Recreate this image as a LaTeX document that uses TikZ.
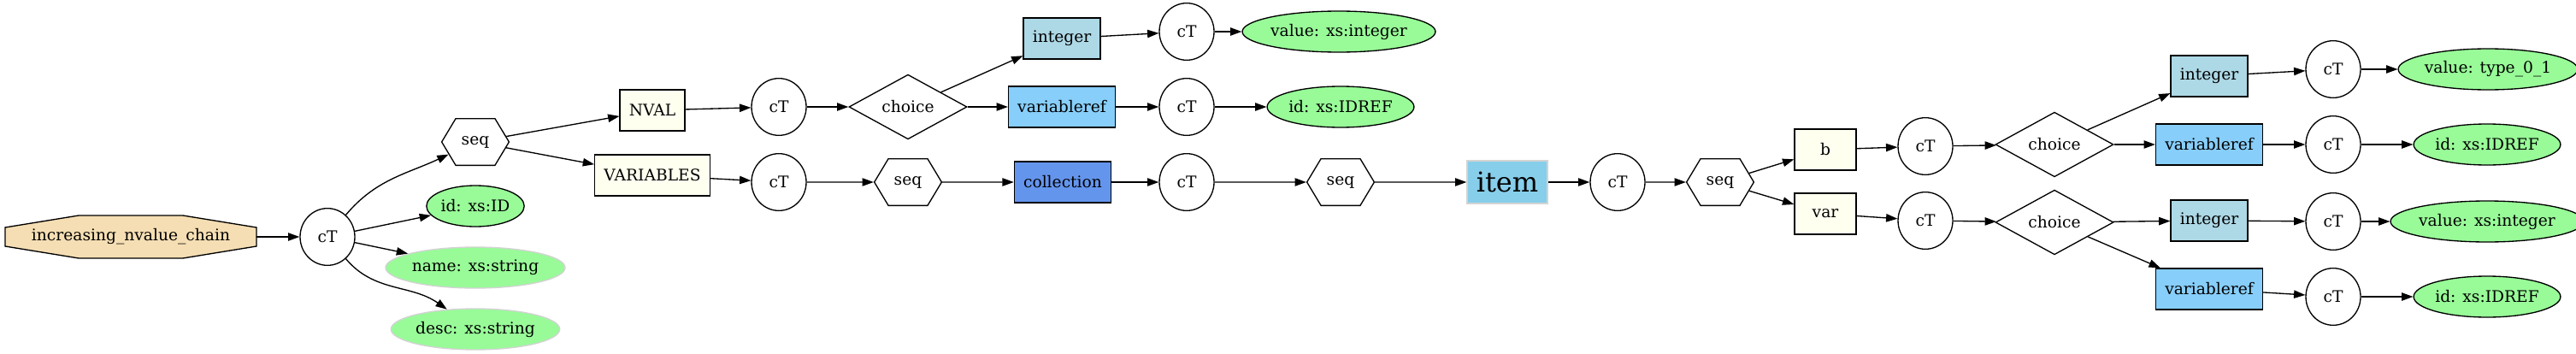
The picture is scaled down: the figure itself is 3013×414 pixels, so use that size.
\documentclass[tikz,border=0pt]{standalone}
\usepackage{fontspec}
\setmainfont{DejaVu Serif}
\usetikzlibrary{shapes.geometric, shapes.symbols, arrows.meta}
\definecolor{wheatfill}{HTML}{F5DEB3}
\definecolor{attrgreen}{HTML}{98FB98}
\definecolor{elemfill}{HTML}{FFFFF0}
\definecolor{intfill}{HTML}{ADD8E6}
\definecolor{reffill}{HTML}{87CEFA}
\definecolor{collfill}{HTML}{6495ED}
\definecolor{itemfill}{HTML}{87CEEB}
\definecolor{softgray}{HTML}{D3D3D3}
\tikzset{
	ctype/.style = {
		ellipse, draw, line width=1pt,
		minimum width=48pt, minimum height=50pt, inner sep=0pt
	},
	seqnode/.style = {
		signal, signal to=east and west, signal pointer angle=118,
		draw, line width=1pt, minimum height=41pt, inner xsep=5pt
	},
	choicenode/.style = {
		diamond, draw, line width=1pt,
		minimum width=103.5pt, minimum height=49.5pt, inner sep=0pt
	},
	elem/.style = {
		rectangle, draw, line width=1pt, fill=#1,
		minimum width=54pt, minimum height=36pt, inner xsep=8pt
	},
	elem/.default = elemfill,
	attr/.style = {
		ellipse, draw, line width=1pt, fill=attrgreen,
		minimum width=#1, minimum height=36pt, inner sep=0pt
	},
	optattr/.style = {
		attr=#1, draw=softgray
	}
}
\tikzstyle{edge} = [-{Triangle[length=10pt,width=7pt]}, line width=1pt]

\begin{document}
\begin{tikzpicture}[x=0.75pt, y=0.75pt, font=\fontsize{14}{17}\selectfont]
		\useasboundingbox (0,0) rectangle (3013,-414);
		% root element
		\filldraw[fill=wheatfill, line width=1pt] (6,-266) -- (92,-252) -- (214,-252) -- (300,-266)
			-- (300,-288) -- (214,-302) -- (92,-302) -- (6,-288) -- cycle;
		\node[minimum width=220.5pt, minimum height=37.5pt] (root) at (153,-277) {increasing\_nvalue\_chain};
		\node[ctype] (ct1) at (383,-277) {cT};
		\node[seqnode] (seq1) at (556,-166) {seq};
		\node[attr=85pt] (id1) at (556,-241) {id: xs:ID};
		\node[optattr=139pt] (name) at (556,-313) {name: xs:string};
		\node[optattr=132pt] (desc) at (556,-385) {desc: xs:string};
		
		% NVAL branch
		\node[elem] (nval) at (763,-129) {NVAL};
		\node[ctype] (ctn) at (911,-125) {cT};
		\node[choicenode] (ch1) at (1062,-125) {choice};
		\node[elem=intfill] (int1) at (1242,-45) {integer};
		\node[elem=reffill] (vref1) at (1242,-125) {variableref};
		\node[ctype] (cti1) at (1388,-37) {cT};
		\node[ctype] (ctr1) at (1388,-125) {cT};
		\node[attr=145pt] (val1) at (1566,-37) {value: xs:integer};
		\node[attr=114pt] (idr1) at (1568,-125) {id: xs:IDREF};
		
		% VARIABLES branch
		\node[elem] (vars) at (763,-205) {VARIABLES};
		\node[ctype] (ctv) at (911,-213) {cT};
		\node[seqnode] (seq2) at (1062,-213) {seq};
		\node[elem=collfill] (coll) at (1243,-213) {collection};
		\node[ctype] (ctc) at (1388,-213) {cT};
		\node[seqnode] (seq3) at (1568,-213) {seq};
		\node[elem=itemfill, draw=softgray, minimum width=70.5pt, minimum height=37.5pt,
			font=\fontsize{24}{28}\selectfont] (item) at (1763,-213) {item};
		\node[ctype] (cti) at (1892,-213) {cT};
		\node[seqnode] (seq4) at (2012,-213) {seq};
		
		% b
		\node[elem] (b) at (2135,-175) {b};
		\node[ctype] (ctb) at (2252,-171) {cT};
		\node[choicenode] (chb) at (2403,-169) {choice};
		\node[elem=intfill] (intb) at (2584,-89) {integer};
		\node[elem=reffill] (vrefb) at (2584,-169) {variableref};
		\node[ctype] (ctib) at (2729,-81) {cT};
		\node[ctype] (ctrb) at (2729,-169) {cT};
		\node[attr=138pt] (valb) at (2910,-81) {value: type\_0\_1};
		\node[attr=114pt] (idrb) at (2909,-169) {id: xs:IDREF};
		
		% var
		\node[elem] (var) at (2135,-250) {var};
		\node[ctype] (ctvar) at (2252,-258) {cT};
		\node[choicenode] (chv) at (2403,-260) {choice};
		\node[elem=intfill] (intv) at (2584,-258) {integer};
		\node[elem=reffill] (vrefv) at (2584,-338) {variableref};
		\node[ctype] (ctiv) at (2729,-259) {cT};
		\node[ctype] (ctrv) at (2729,-347) {cT};
		\node[attr=145pt] (valv) at (2909,-259) {value: xs:integer};
		\node[attr=114pt] (idrv) at (2909,-347) {id: xs:IDREF};
		
		% connectors
		\draw[edge] (root) -- (ct1);
		\draw[edge] (ct1) to[out=50, in=205] (seq1);
		\draw[edge] (ct1) -- (id1);
		\draw[edge] (ct1) -- (name);
		\draw[edge] (ct1) to[out=-50, in=145] (desc);
		\draw[edge] (seq1) -- (nval);
		\draw[edge] (seq1) -- (vars);
		\draw[edge] (nval) -- (ctn);
		\draw[edge] (ctn) -- (ch1);
		\draw[edge] (ch1) -- (int1);
		\draw[edge] (ch1) -- (vref1);
		\draw[edge] (int1) -- (cti1);
		\draw[edge] (vref1) -- (ctr1);
		\draw[edge] (cti1) -- (val1);
		\draw[edge] (ctr1) -- (idr1);
		\draw[edge] (vars) -- (ctv);
		\draw[edge] (ctv) -- (seq2);
		\draw[edge] (seq2) -- (coll);
		\draw[edge] (coll) -- (ctc);
		\draw[edge] (ctc) -- (seq3);
		\draw[edge] (seq3) -- (item);
		\draw[edge] (item) -- (cti);
		\draw[edge] (cti) -- (seq4);
		\draw[edge] (seq4) -- (b);
		\draw[edge] (seq4) -- (var);
		\draw[edge] (b) -- (ctb);
		\draw[edge] (ctb) -- (chb);
		\draw[edge] (chb) -- (intb);
		\draw[edge] (chb) -- (vrefb);
		\draw[edge] (intb) -- (ctib);
		\draw[edge] (vrefb) -- (ctrb);
		\draw[edge] (ctib) -- (valb);
		\draw[edge] (ctrb) -- (idrb);
		\draw[edge] (var) -- (ctvar);
		\draw[edge] (ctvar) -- (chv);
		\draw[edge] (chv) -- (intv);
		\draw[edge] (chv) -- (vrefv);
		\draw[edge] (intv) -- (ctiv);
		\draw[edge] (vrefv) -- (ctrv);
		\draw[edge] (ctiv) -- (valv);
		\draw[edge] (ctrv) -- (idrv);
	\end{tikzpicture}
\end{document}
